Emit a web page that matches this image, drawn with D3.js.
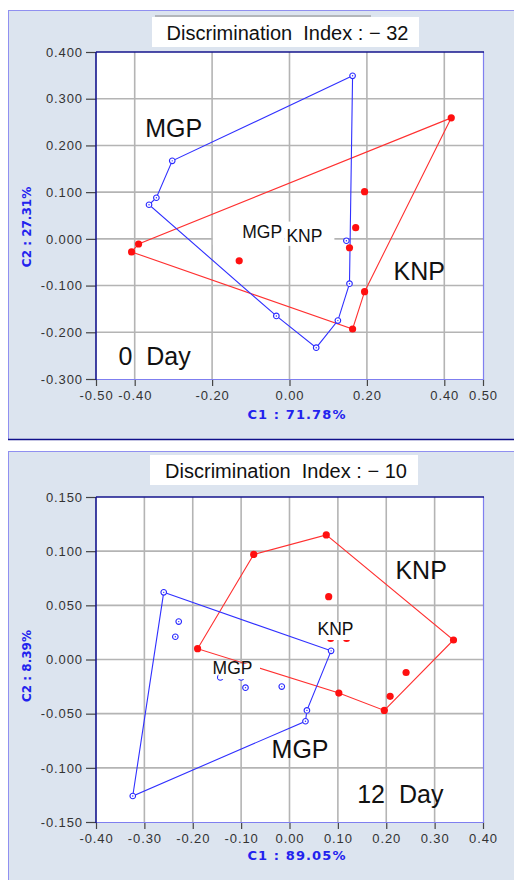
<html>
<head>
<meta charset="utf-8">
<script src="https://d3js.org/d3.v7.min.js"></script>
<style>
  body { margin: 0; background: #fff; }
  text { font-family: "Liberation Sans", Arial, sans-serif; }
</style>
</head>
<body>
<div id="my_dataviz"></div>
<script>
// ---- 0 Day : canonical scores (C1, C2) ----
const mgp0 = [[0.163, 0.349], [-0.303, 0.167], [-0.344, 0.088], [-0.363, 0.073], [-0.034, -0.165],
              [0.069, -0.233], [0.125, -0.175], [0.155, -0.096], [0.147, -0.004]];
const mgp0Hull = [0, 1, 2, 3, 4, 5, 6, 7];
const knp0 = [[0.418, 0.259], [-0.390, -0.011], [-0.408, -0.028], [0.163, -0.193], [0.194, -0.113],
              [0.194, 0.101], [0.171, 0.024], [0.155, -0.019], [-0.130, -0.047]];
const knp0Hull = [0, 1, 2, 3, 4];
const xTicks0 = [-0.5, -0.4, -0.2, 0, 0.2, 0.4, 0.5];
const xGrid0 = [-0.4, -0.2, 0, 0.2, 0.4];
const yTicks0 = [-0.3, -0.2, -0.1, 0, 0.1, 0.2, 0.3, 0.4];

// ---- 12 Day ----
const mgp12 = [[-0.260, 0.062], [0.086, 0.008], [0.036, -0.047], [0.033, -0.057], [-0.324, -0.126],
               [-0.229, 0.035], [-0.236, 0.021], [-0.091, -0.026], [-0.016, -0.025],
               [-0.143, -0.0165], [-0.100, -0.0165]];
const mgp12Hull = [0, 1, 2, 3, 4];
const knp12 = [[-0.190, 0.010], [-0.074, 0.097], [0.076, 0.115], [0.339, 0.018], [0.196, -0.047],
               [0.102, -0.031], [0.081, 0.058], [0.241, -0.012], [0.208, -0.034],
               [0.085, 0.0195], [0.118, 0.0195]];
const knp12Hull = [0, 1, 2, 3, 4, 5];
const xTicks12 = [-0.4, -0.3, -0.2, -0.1, 0, 0.1, 0.2, 0.3, 0.4];
const yTicks12 = [-0.15, -0.1, -0.05, 0, 0.05, 0.1, 0.15];

const svg = d3.select("#my_dataviz").append("svg")
  .attr("width", 514).attr("height", 880);

const panels = [
  {
    top: 10, bottom: 440, darkBottom: true,
    title: "Discrimination\u00a0 Index : \u2212 32", titleBox: [152, 17, 267, 30], titleLine: true,
    xDomain: [-0.5, 0.5], yDomain: [-0.3, 0.4], plotY: [52, 379],
    xTicks: xTicks0, xGrid: xGrid0, yTicks: yTicks0, yGrid: [-0.2, -0.1, 0, 0.1, 0.2, 0.3],
    xFmt: 2, yFmt: 3,
    xLabel: "C1 : 71.78%", xLabelY: 419, yLabel: "C2 : 27.31%", yLabelY: 227,
    mgp: mgp0, mgpHull: mgp0Hull, knp: knp0, knpHull: knp0Hull,
    boxes: [[-0.198, 0.047, -0.013, -0.013], [-0.013, 0.037, 0.116, -0.015]],
    labels: [
      { text: "MGP", x: -0.373, y: 0.218, size: 25 },
      { text: "KNP", x: 0.269, y: -0.088, size: 25 },
      { text: "0\u00a0 Day", x: -0.442, y: -0.271, size: 25 },
      { text: "MGP", x: -0.122, y: 0.002, size: 17.5 },
      { text: "KNP", x: -0.008, y: -0.006, size: 17.5 }
    ]
  },
  {
    top: 451, bottom: 900, darkBottom: false,
    title: "Discrimination\u00a0 Index : \u2212 10", titleBox: [150, 455, 268, 30], titleLine: false,
    xDomain: [-0.4, 0.4], yDomain: [-0.15, 0.15], plotY: [497, 822],
    xTicks: xTicks12, xGrid: xTicks12.slice(1, -1), yTicks: yTicks12, yGrid: yTicks12.slice(1, -1),
    xFmt: 2, yFmt: 3,
    xLabel: "C1 : 89.05%", xLabelY: 860, yLabel: "C2 : 8.39%", yLabelY: 666,
    mgp: mgp12, mgpHull: mgp12Hull, knp: knp12, knpHull: knp12Hull,
    boxes: [[-0.147, -0.004, -0.061, -0.018], [0.048, 0.034, 0.14, 0.018]],
    labels: [
      { text: "KNP", x: 0.219, y: 0.074, size: 25 },
      { text: "MGP", x: -0.037, y: -0.091, size: 25 },
      { text: "12\u00a0 Day", x: 0.140, y: -0.1325, size: 25 },
      { text: "KNP", x: 0.058, y: 0.023, size: 17.5 },
      { text: "MGP", x: -0.159, y: -0.013, size: 17.5 }
    ]
  }
];

panels.forEach(drawPanel);

function drawPanel(p) {
  const g = svg.append("g");

  // panel background
  g.append("rect")
    .attr("x", 8.5).attr("y", p.top + 0.5)
    .attr("width", 520).attr("height", p.bottom - p.top - 1)
    .attr("fill", "#dce4ef").attr("stroke", "#9090f0");
  if (p.darkBottom) {
    g.append("line")
      .attr("x1", 8).attr("x2", 514).attr("y1", p.bottom - 0.5).attr("y2", p.bottom - 0.5)
      .attr("stroke", "#10108a").attr("stroke-width", 1.5);
  }

  // title
  if (p.titleLine) {
    g.append("line").attr("x1", 155).attr("x2", 371).attr("y1", p.titleBox[1] - 1).attr("y2", p.titleBox[1] - 1)
      .attr("stroke", "#888");
  }
  g.append("rect")
    .attr("x", p.titleBox[0]).attr("y", p.titleBox[1])
    .attr("width", p.titleBox[2]).attr("height", p.titleBox[3])
    .attr("fill", "#fff");
  g.append("text")
    .attr("x", p.titleBox[0] + p.titleBox[2] / 2 + 2).attr("y", p.titleBox[1] + 23)
    .attr("text-anchor", "middle").style("font-size", "20px").attr("fill", "#111")
    .text(p.title);

  const x = d3.scaleLinear().domain(p.xDomain).range([96, 483]);
  const y = d3.scaleLinear().domain(p.yDomain).range([p.plotY[1], p.plotY[0]]);

  // plot area
  g.append("rect")
    .attr("x", 96).attr("y", p.plotY[0]).attr("width", 387).attr("height", p.plotY[1] - p.plotY[0])
    .attr("fill", "#fff");

  // grid
  g.append("g").selectAll("line").data(p.xGrid).join("line")
    .attr("x1", d => x(d)).attr("x2", d => x(d))
    .attr("y1", p.plotY[0]).attr("y2", p.plotY[1])
    .attr("stroke", "#b4b4b4").attr("stroke-width", 1.6);
  g.append("g").selectAll("line").data(p.yGrid).join("line")
    .attr("x1", 96).attr("x2", 483)
    .attr("y1", d => y(d)).attr("y2", d => y(d))
    .attr("stroke", "#b4b4b4").attr("stroke-width", 1.6);

  // axes
  const yAxis = g.append("g").attr("transform", "translate(96,0)")
    .call(d3.axisLeft(y).tickValues(p.yTicks).tickSize(10).tickPadding(3)
      .tickFormat(d => d.toFixed(p.yFmt)));
  const xAxis = g.append("g").attr("transform", `translate(0,${p.plotY[1]})`)
    .call(d3.axisBottom(x).tickValues(p.xTicks).tickSize(7).tickPadding(5)
      .tickFormat(d => d.toFixed(p.xFmt)));
  [yAxis, xAxis].forEach(a => {
    a.select(".domain").remove();
    a.selectAll(".tick line").attr("stroke", "#444").attr("stroke-width", 1.2);
    a.selectAll(".tick text")
      .style("font-family", "'Liberation Sans', Arial, sans-serif")
      .style("font-size", "13px").style("letter-spacing", "0.9px")
      .attr("fill", "#333");
  });

  // plot frame
  const frame = g.append("g");
  frame.append("line").attr("x1", 483.5).attr("x2", 483.5).attr("y1", p.plotY[0]).attr("y2", p.plotY[1])
    .attr("stroke", "#7f7ff0").attr("stroke-width", 1.2);
  frame.append("line").attr("x1", 96).attr("x2", 484).attr("y1", p.plotY[1] + 0.5).attr("y2", p.plotY[1] + 0.5)
    .attr("stroke", "#7f7ff0").attr("stroke-width", 1.2);
  frame.append("line").attr("x1", 96).attr("x2", 96).attr("y1", p.plotY[0]).attr("y2", p.plotY[1] + 1)
    .attr("stroke", "#14148c").attr("stroke-width", 1.6);
  frame.append("line").attr("x1", 96).attr("x2", 484).attr("y1", p.plotY[0]).attr("y2", p.plotY[0])
    .attr("stroke", "#14148c").attr("stroke-width", 1.4);

  // axis titles
  g.append("text")
    .attr("x", 297).attr("y", p.xLabelY).attr("text-anchor", "middle")
    .style("font-family", "'DejaVu Sans', sans-serif").style("font-weight", "bold")
    .style("font-size", "13px").style("letter-spacing", "1.1px")
    .attr("fill", "#2222ee").text(p.xLabel);
  g.append("text")
    .attr("transform", `translate(31,${p.yLabelY}) rotate(-90)`).attr("text-anchor", "middle")
    .style("font-family", "'DejaVu Sans', sans-serif").style("font-weight", "bold")
    .style("font-size", "12px")
    .attr("fill", "#2222ee").text(p.yLabel);

  // group outlines
  const line = d3.line().x(d => x(d[0])).y(d => y(d[1])).curve(d3.curveLinearClosed);
  g.append("path").datum(p.knpHull.map(i => p.knp[i])).attr("d", line)
    .attr("fill", "none").attr("stroke", "#ff3030").attr("stroke-width", 1.1);
  g.append("path").datum(p.mgpHull.map(i => p.mgp[i])).attr("d", line)
    .attr("fill", "none").attr("stroke", "#3030ff").attr("stroke-width", 1.1);

  // points
  g.append("g").selectAll("circle").data(p.knp).join("circle")
    .attr("cx", d => x(d[0])).attr("cy", d => y(d[1])).attr("r", 3.6)
    .attr("fill", "#ff1010");
  const mg = g.append("g").selectAll("g").data(p.mgp).join("g")
    .attr("transform", d => `translate(${x(d[0])},${y(d[1])})`);
  mg.append("circle").attr("r", 2.8).attr("fill", "#fff").attr("stroke", "#2a2aff").attr("stroke-width", 1.1);
  mg.append("circle").attr("r", 0.7).attr("fill", "#2a2aff");

  // white boxes behind centroid labels
  g.append("g").selectAll("rect").data(p.boxes).join("rect")
    .attr("x", d => x(d[0])).attr("y", d => y(d[1]))
    .attr("width", d => x(d[2]) - x(d[0])).attr("height", d => y(d[3]) - y(d[1]))
    .attr("fill", "#fff");

  // labels
  g.append("g").selectAll("text").data(p.labels).join("text")
    .attr("x", d => x(d.x)).attr("y", d => y(d.y))
    .style("font-size", d => d.size + "px")
    .attr("fill", "#111")
    .text(d => d.text);
}
</script>
</body>
</html>
